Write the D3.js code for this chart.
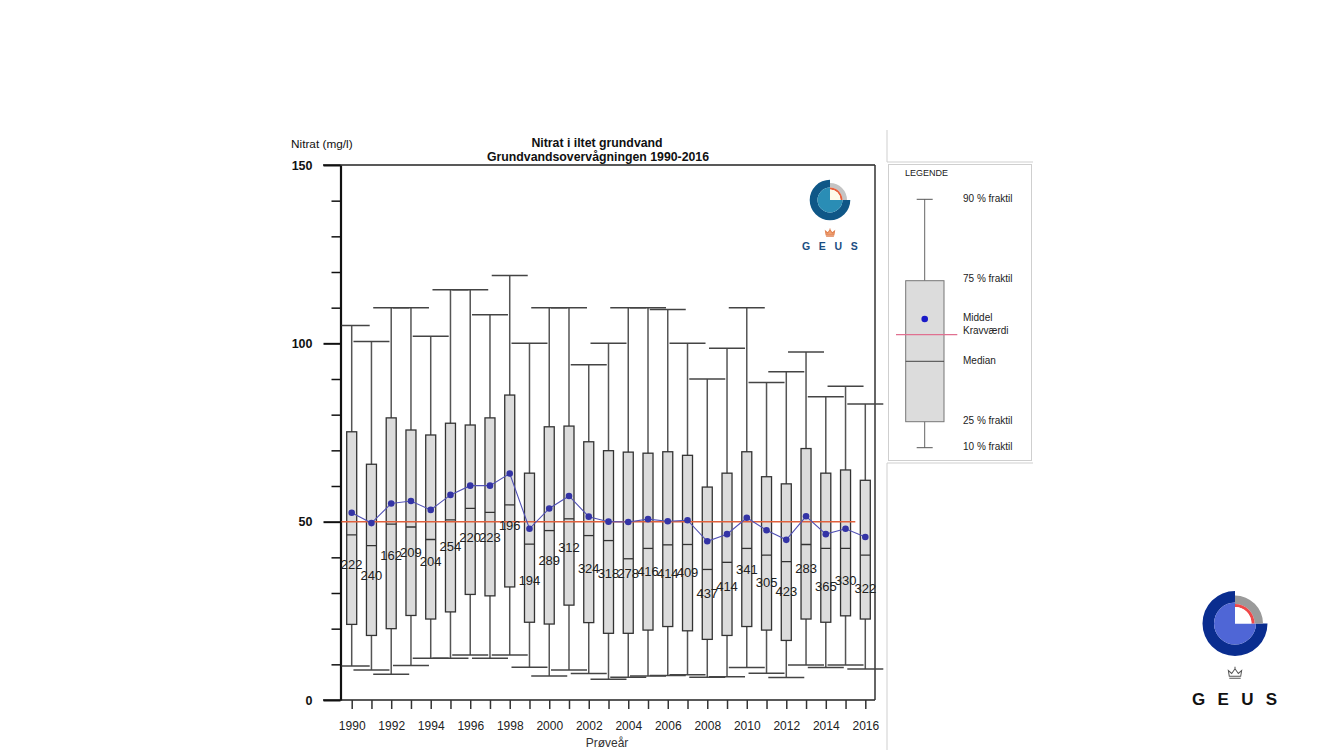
<!DOCTYPE html>
<html>
<head>
<meta charset="utf-8">
<script src="https://cdn.jsdelivr.net/npm/d3@7"></script>
<style>
  body { margin: 0; background: #fff; }
  svg { display: block; }
  text { font-family: "Liberation Sans", Arial, sans-serif; }
</style>
</head>
<body>
<svg id="chart" width="1333" height="750"></svg>
<script>
// data (mg/l)
const years = [1990, 1991, 1992, 1993, 1994, 1995, 1996, 1997, 1998, 1999, 2000, 2001, 2002,
  2003, 2004, 2005, 2006, 2007, 2008, 2009, 2010, 2011, 2012, 2013, 2014, 2015, 2016];
const p90 = [105, 100.5, 110, 110, 102, 115, 115, 108, 119, 100, 110, 110, 94,
  100, 110, 110, 109.5, 100, 90, 98.6, 110, 89, 92, 97.6, 85, 88, 83];
const q3 = [75.2, 66.1, 79.1, 75.7, 74.3, 77.6, 77.1, 79.1, 85.5, 63.6, 76.6, 76.8, 72.4,
  69.9, 69.5, 69.2, 69.6, 68.6, 59.7, 63.6, 69.6, 62.6, 60.6, 70.5, 63.6, 64.5, 61.6];
const median = [46.3, 43.3, 49.3, 48.5, 45.0, 50.5, 53.7, 52.6, 54.7, 43.7, 47.5, 50.8, 46.1,
  44.7, 39.6, 42.5, 43.5, 43.6, 36.6, 38.6, 42.5, 40.6, 38.8, 43.6, 42.5, 42.5, 40.6];
const mean = [52.5, 49.6, 55.1, 55.8, 53.3, 57.5, 60.1, 60.1, 63.5, 48.0, 53.7, 57.2, 51.4,
  50.0, 49.9, 50.7, 50.1, 50.4, 44.5, 46.5, 51.1, 47.6, 44.9, 51.5, 46.5, 48.0, 45.7];
const q1 = [21.2, 18.1, 20.0, 23.7, 22.7, 24.7, 29.6, 29.2, 31.7, 21.8, 21.3, 26.6, 21.7,
  18.7, 18.7, 19.6, 20.6, 19.4, 17.0, 18.1, 20.6, 19.6, 16.7, 22.7, 21.8, 23.6, 22.7];
const p10 = [9.5, 8.4, 7.2, 9.7, 11.7, 11.7, 12.6, 11.7, 12.6, 9.2, 6.7, 8.4, 7.4,
  5.8, 6.4, 6.7, 6.9, 7.1, 6.4, 6.5, 9.1, 7.5, 6.3, 9.8, 9.1, 9.8, 8.7];
const counts = [222, 240, 162, 209, 204, 254, 220, 223, 196, 194, 289, 312, 324,
  318, 278, 416, 414, 409, 437, 414, 341, 305, 423, 283, 365, 330, 322];
const limitValue = 50; // kravværdi
const yMajor = [0, 50, 100, 150];
const yMinor = [10, 20, 30, 40, 60, 70, 80, 90, 110, 120, 130, 140];

const rows = years.map((yr, i) => ({
  yr, p90: p90[i], q3: q3[i], med: median[i], mean: mean[i], q1: q1[i], p10: p10[i], n: counts[i]
}));

const svg = d3.select("#chart");

const axisX = 340.5, frameRight = 875;
const x = d3.scalePoint().domain(years).range([351.7, 865.3]);
const y = d3.scaleLinear().domain([0, 150]).range([700, 165]);

// titles
svg.append("text").attr("x", 291).attr("y", 148).attr("font-size", 11.8).attr("fill", "#111")
  .text("Nitrat (mg/l)");
svg.append("text").attr("x", 597).attr("y", 147).attr("text-anchor", "middle")
  .attr("font-size", 12.3).attr("font-weight", "bold").attr("fill", "#111")
  .text("Nitrat i iltet grundvand");
svg.append("text").attr("x", 598).attr("y", 161).attr("text-anchor", "middle")
  .attr("font-size", 12.3).attr("font-weight", "bold").attr("fill", "#111")
  .text("Grundvandsovervågningen 1990-2016");

// frame: top, bottom, right
svg.append("line").attr("x1", 323).attr("x2", frameRight).attr("y1", y(150)).attr("y2", y(150))
  .attr("stroke", "#222").attr("stroke-width", 1.5);
svg.append("line").attr("x1", 323).attr("x2", frameRight).attr("y1", y(0)).attr("y2", y(0))
  .attr("stroke", "#222").attr("stroke-width", 1.5);
svg.append("line").attr("x1", frameRight).attr("x2", frameRight).attr("y1", y(150)).attr("y2", y(0))
  .attr("stroke", "#333").attr("stroke-width", 1.5);

// y axis
const yAxisMajor = svg.append("g").attr("transform", `translate(${axisX},0)`)
  .call(d3.axisLeft(y).tickValues(yMajor).tickSize(17).tickSizeOuter(0).tickPadding(11));
yAxisMajor.select(".domain").attr("stroke", "#111").attr("stroke-width", 2.2);
yAxisMajor.selectAll(".tick line").attr("stroke", "#111").attr("stroke-width", 2);
yAxisMajor.selectAll(".tick text").attr("font-size", 12.5).attr("font-weight", "bold")
  .attr("fill", "#111").attr("font-family", "Liberation Sans, Arial, sans-serif");
const yAxisMinor = svg.append("g").attr("transform", `translate(${axisX},0)`)
  .call(d3.axisLeft(y).tickValues(yMinor).tickSize(9).tickFormat(""));
yAxisMinor.select(".domain").remove();
yAxisMinor.selectAll(".tick line").attr("stroke", "#111").attr("stroke-width", 1.5);

// x axis
const xAxis = svg.append("g").attr("transform", `translate(0,${y(0)})`)
  .call(d3.axisBottom(x).tickSize(9).tickPadding(12).tickFormat(d => d % 2 === 0 ? d : ""));
xAxis.select(".domain").remove();
xAxis.selectAll(".tick line").attr("stroke", "#333").attr("stroke-width", 1.5);
xAxis.selectAll(".tick text").attr("font-size", 12).attr("fill", "#222")
  .attr("font-family", "Liberation Sans, Arial, sans-serif");
svg.append("text").attr("x", 607).attr("y", 747).attr("text-anchor", "middle")
  .attr("font-size", 12).attr("fill", "#333").text("Prøveår");

// clip so whisker caps don't cross the y axis
svg.append("clipPath").attr("id", "plotclip").append("rect")
  .attr("x", axisX + 1).attr("y", 150).attr("width", 560).attr("height", 560);
const plot = svg.append("g").attr("clip-path", "url(#plotclip)");

const capHalf = 18, boxHalf = 5;

// whiskers
plot.selectAll(".wh").data(rows).join("line").attr("class", "wh")
  .attr("x1", d => x(d.yr)).attr("x2", d => x(d.yr))
  .attr("y1", d => y(d.p90)).attr("y2", d => y(d.p10))
  .attr("stroke", "#555").attr("stroke-width", 1.5);
["p90", "p10"].forEach(k => {
  plot.selectAll(".cap-" + k).data(rows).join("line").attr("class", "cap-" + k)
    .attr("x1", d => x(d.yr) - capHalf).attr("x2", d => x(d.yr) + capHalf)
    .attr("y1", d => y(d[k])).attr("y2", d => y(d[k]))
    .attr("stroke", "#444").attr("stroke-width", 1.5);
});

// boxes
plot.selectAll(".box").data(rows).join("rect").attr("class", "box")
  .attr("x", d => x(d.yr) - boxHalf).attr("width", boxHalf * 2)
  .attr("y", d => y(d.q3)).attr("height", d => y(d.q1) - y(d.q3))
  .attr("fill", "#dcdcdc").attr("stroke", "#333").attr("stroke-width", 1.3);
plot.selectAll(".med").data(rows).join("line").attr("class", "med")
  .attr("x1", d => x(d.yr) - boxHalf).attr("x2", d => x(d.yr) + boxHalf)
  .attr("y1", d => y(d.med)).attr("y2", d => y(d.med))
  .attr("stroke", "#333").attr("stroke-width", 1.3);

// kravværdi line
plot.append("line").attr("x1", axisX).attr("x2", x(2016) - 10)
  .attr("y1", y(limitValue)).attr("y2", y(limitValue))
  .attr("stroke", "#e0603c").attr("stroke-width", 1.5);

// mean line and points
plot.append("path").datum(rows)
  .attr("d", d3.line().x(d => x(d.yr)).y(d => y(d.mean)))
  .attr("fill", "none").attr("stroke", "#5252b5").attr("stroke-width", 1.1);
plot.selectAll(".mean").data(rows).join("circle").attr("class", "mean")
  .attr("cx", d => x(d.yr)).attr("cy", d => y(d.mean)).attr("r", 3.3)
  .attr("fill", "#3434a6");

// counts
svg.selectAll(".cnt").data(rows).join("text").attr("class", "cnt")
  .attr("x", d => x(d.yr)).attr("y", d => y(d.mean) + 53)
  .attr("text-anchor", "middle").attr("dominant-baseline", "middle")
  .attr("font-size", 13).attr("fill", "#222").text(d => d.n);

// GEUS logo
function logo(cx, cy, R, c) {
  const g = svg.append("g").attr("transform", `translate(${cx},${cy})`);
  const arc = d3.arc();
  g.append("path").attr("d", arc({innerRadius: c.ri, outerRadius: R, startAngle: Math.PI / 2, endAngle: 2 * Math.PI}))
    .attr("fill", c.outer);
  g.append("path").attr("d", arc({innerRadius: 0, outerRadius: c.ri, startAngle: Math.PI / 2, endAngle: 2 * Math.PI}))
    .attr("fill", c.inner);
  g.append("path").attr("d", arc({innerRadius: c.rr2, outerRadius: c.rg, startAngle: 0, endAngle: Math.PI / 2}))
    .attr("fill", c.gray);
  g.append("path").attr("d", arc({innerRadius: c.rr1, outerRadius: c.rr2, startAngle: 0, endAngle: Math.PI / 2}))
    .attr("fill", c.red);
  g.append("path").attr("d", arc({innerRadius: 0, outerRadius: c.rr1, startAngle: 0, endAngle: Math.PI / 2}))
    .attr("fill", c.core);
  const s = c.crownScale;
  g.append("path")
    .attr("transform", `translate(0,${c.crownY}) scale(${s})`)
    .attr("d", "M-6,3 L-7,-3 L-3.5,0 L0,-5 L3.5,0 L7,-3 L6,3 Z M-6,5 L6,5 M0,-5 L0,-7")
    .attr("fill", c.crownFill).attr("stroke", c.crownStroke).attr("stroke-width", 1 / s);
  g.append("text").attr("x", c.textX).attr("y", c.textY)
    .attr("font-size", c.fs).attr("font-weight", "bold").attr("letter-spacing", c.ls)
    .attr("fill", c.textColor).text("GEUS");
}
logo(830, 200, 20.3, {
  ri: 12.5, rg: 17, rr2: 12.5, rr1: 10.5, outer: "#0f5787", inner: "#2a8db5",
  gray: "#c4c4c4", red: "#e8603c", core: "#fffbea",
  crownY: 33, crownScale: 0.65, crownFill: "#f0a070", crownStroke: "#e08050",
  textX: -28, textY: 50, fs: 10.5, ls: 8.7, textColor: "#1a4d82"
});
logo(1235, 623.5, 32.5, {
  ri: 21, rg: 28, rr2: 19.5, rr1: 16.5, outer: "#0a2d8f", inner: "#4f66d6",
  gray: "#9a9a9a", red: "#f04848", core: "#ffffff",
  crownY: 50, crownScale: 0.95, crownFill: "none", crownStroke: "#555",
  textX: -43, textY: 81, fs: 17, ls: 12.3, textColor: "#111"
});

// right-hand panels
const panel = "#cfcfcf";
svg.append("line").attr("x1", 887).attr("x2", 887).attr("y1", 130).attr("y2", 162).attr("stroke", panel);
svg.append("line").attr("x1", 887).attr("x2", 1033).attr("y1", 162).attr("y2", 162).attr("stroke", panel);
svg.append("rect").attr("x", 888.5).attr("y", 164.5).attr("width", 143).attr("height", 296)
  .attr("fill", "none").attr("stroke", panel);
svg.append("line").attr("x1", 887).attr("x2", 1033).attr("y1", 463).attr("y2", 463).attr("stroke", panel);
svg.append("line").attr("x1", 887).attr("x2", 887).attr("y1", 463).attr("y2", 750).attr("stroke", panel);

// legend
const lg = svg.append("g");
const lx = 924.7;
lg.append("text").attr("x", 905).attr("y", 176).attr("font-size", 9).attr("fill", "#222").text("LEGENDE");
lg.append("line").attr("x1", lx).attr("x2", lx).attr("y1", 199.3).attr("y2", 447.7).attr("stroke", "#666");
[199.3, 447.7].forEach(v => lg.append("line").attr("x1", lx - 8).attr("x2", lx + 8)
  .attr("y1", v).attr("y2", v).attr("stroke", "#555"));
lg.append("rect").attr("x", 905.7).attr("y", 280.7).attr("width", 38.3).attr("height", 141)
  .attr("fill", "#dcdcdc").attr("stroke", "#777");
lg.append("line").attr("x1", 905.7).attr("x2", 944).attr("y1", 361.3).attr("y2", 361.3).attr("stroke", "#444");
lg.append("line").attr("x1", 896).attr("x2", 957.3).attr("y1", 334.7).attr("y2", 334.7)
  .attr("stroke", "#e07090").attr("stroke-width", 1.2);
lg.append("circle").attr("cx", lx).attr("cy", 319).attr("r", 3.3).attr("fill", "#1a1ac8");
[["90 % fraktil", 199.3], ["75 % fraktil", 279.3], ["Middel", 318.3], ["Kravværdi", 331.7],
 ["Median", 361.3], ["25 % fraktil", 421.7], ["10 % fraktil", 447.7]].forEach(([t, v]) =>
  lg.append("text").attr("x", 963).attr("y", v).attr("dominant-baseline", "middle")
    .attr("font-size", 10).attr("fill", "#222").text(t));
</script>
</body>
</html>
